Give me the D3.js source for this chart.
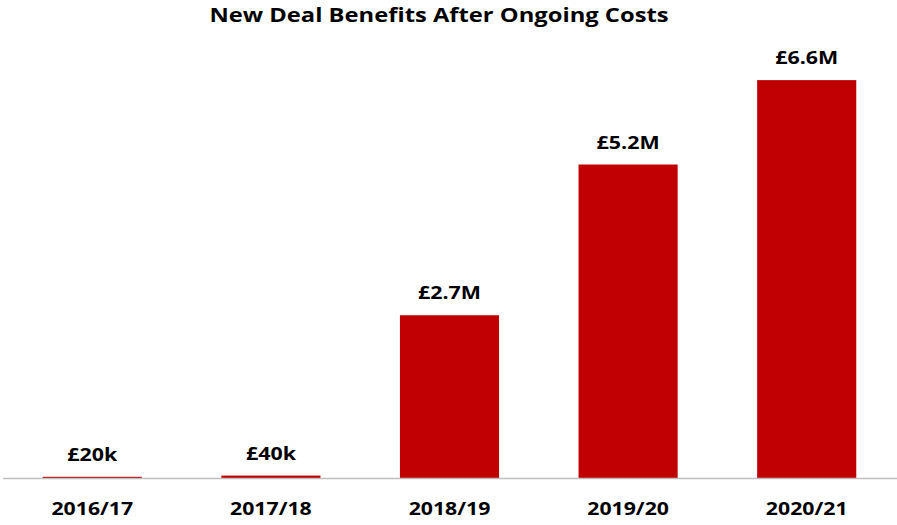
<!DOCTYPE html>
<html>
<head>
<meta charset="utf-8">
<script src="https://cdn.jsdelivr.net/npm/d3@7"></script>
<style>
  html, body { margin: 0; padding: 0; background: #fff; }
  svg { display: block; }
  text { font-family: "Open Sans", "Liberation Sans", sans-serif; font-weight: 700; fill: #000; }
</style>
</head>
<body>
<svg id="chart" width="897" height="525"></svg>
<script>
// Benefits per financial year, in £ millions
const years = ["2016/17", "2017/18", "2018/19", "2019/20", "2020/21"];
const benefits = [0.02, 0.04, 2.7, 5.2, 6.6];
const titleText = "New Deal Benefits After Ongoing Costs";

const svg = d3.select("#chart");
const baseY = 478;

const x = d3.scaleBand()
  .domain(years)
  .range([3, 896])
  .paddingInner(0.445)
  .paddingOuter(0.2225);

const y = d3.scaleLinear()
  .domain([0, 7])
  .range([baseY, 56]);

// value label: thousands below £1M, millions otherwise
const fmt = v => v < 1 ? "£" + Math.round(v * 1000) + "k" : "£" + d3.format(".1f")(v) + "M";

// title, widened horizontally
svg.append("text")
  .attr("transform", "translate(439,22) scale(1.25,1)")
  .attr("text-anchor", "middle")
  .attr("font-size", 19)
  .text(titleText);

const rows = years.map((yr, i) => ({ yr, v: benefits[i] }));

// bars
svg.append("g").selectAll("rect")
  .data(rows)
  .join("rect")
  .attr("x", d => x(d.yr))
  .attr("width", x.bandwidth())
  .attr("y", d => y(d.v))
  .attr("height", d => baseY - y(d.v))
  .attr("fill", "#C00000");

// value labels above each bar
svg.append("g").selectAll("text")
  .data(rows)
  .join("text")
  .attr("transform", d => `translate(${x(d.yr) + x.bandwidth() / 2},${y(d.v) - 16}) scale(1.26,1)`)
  .attr("text-anchor", "middle")
  .attr("font-size", 17)
  .text(d => fmt(d.v));

// category axis
const axis = svg.append("g")
  .attr("transform", `translate(0,${baseY})`)
  .call(d3.axisBottom(x).tickSize(0));
axis.select(".domain")
  .attr("d", "M3,0.5H897")
  .attr("stroke", "#BFBFBF")
  .attr("stroke-width", 1.5);
axis.selectAll(".tick text")
  .attr("y", 37)
  .attr("dy", null)
  .attr("transform", "scale(1.15,1)")
  .attr("font-size", 18.5)
  .attr("font-family", "\"Open Sans\", \"Liberation Sans\", sans-serif")
  .attr("font-weight", 700)
  .attr("fill", "#000");
</script>
</body>
</html>
